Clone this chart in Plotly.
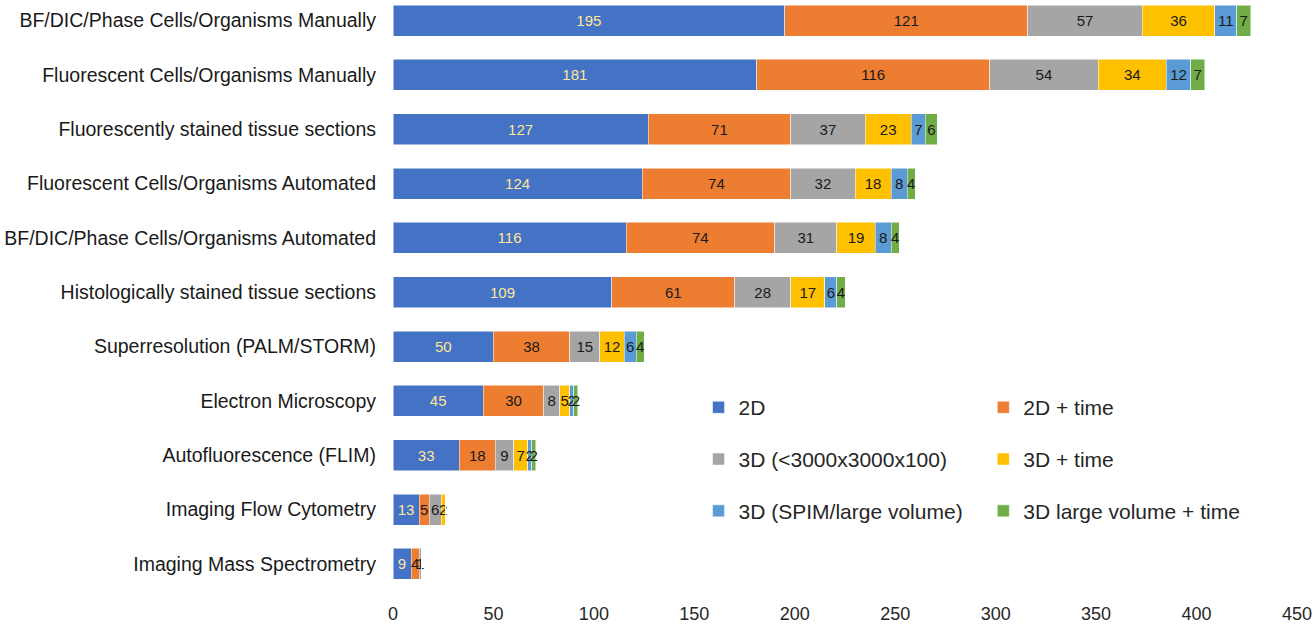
import plotly.graph_objects as go

categories = [
    "BF/DIC/Phase Cells/Organisms Manually",
    "Fluorescent Cells/Organisms Manually",
    "Fluorescently stained tissue sections",
    "Fluorescent Cells/Organisms Automated",
    "BF/DIC/Phase Cells/Organisms Automated",
    "Histologically stained tissue sections",
    "Superresolution (PALM/STORM)",
    "Electron Microscopy",
    "Autofluorescence (FLIM)",
    "Imaging Flow Cytometry",
    "Imaging Mass Spectrometry",
]

series_names = ["2D", "2D + time", "3D (<3000x3000x100)", "3D + time",
                "3D (SPIM/large volume)", "3D large volume + time"]

v_2d = [195, 181, 127, 124, 116, 109, 50, 45, 33, 13, 9]
v_2d_time = [121, 116, 71, 74, 74, 61, 38, 30, 18, 5, 4]
v_3d = [57, 54, 37, 32, 31, 28, 15, 8, 9, 6, 1]
v_3d_time = [36, 34, 23, 18, 19, 17, 12, 5, 7, 2, 0]
v_3d_spim = [11, 12, 7, 8, 8, 6, 6, 2, 2, 0, 0]
v_3d_large_time = [7, 7, 6, 4, 4, 4, 4, 2, 2, 0, 0]

x_ticks = [0, 50, 100, 150, 200, 250, 300, 350, 400, 450]

series_values = [v_2d, v_2d_time, v_3d, v_3d_time, v_3d_spim, v_3d_large_time]
colors = ["#4472C4", "#ED7D31", "#A5A5A5", "#FFC000", "#5B9BD5", "#70AD47"]
label_colors = ["#FFE699", "#1a1a1a", "#1a1a1a", "#1a1a1a", "#1a1a1a", "#1a1a1a"]
legend_ids = ["legend", "legend2", "legend", "legend2", "legend", "legend2"]

fig = go.Figure()
for i, (name, vals) in enumerate(zip(series_names, series_values)):
    fig.add_trace(go.Bar(
        y=categories, x=vals, name=name, orientation="h",
        marker=dict(color=colors[i], line=dict(color="white", width=0.5)),
        text=[str(v) for v in vals], textposition="inside",
        insidetextanchor="middle", textangle=0, constraintext="none",
        textfont=dict(color=label_colors[i], size=15, family="Liberation Sans"),
        legend=legend_ids[i], legendgroup=name, width=0.57,
    ))

legend_common = dict(
    orientation="v", bgcolor="rgba(0,0,0,0)",
    font=dict(size=21, color="#262626", family="Liberation Sans"),
    tracegroupgap=21.5, itemwidth=30, yanchor="top", xanchor="left",
)
fig.update_layout(
    barmode="stack",
    width=1313, height=624,
    margin=dict(l=393, r=16, t=0, b=33),
    plot_bgcolor="white", paper_bgcolor="white",
    font=dict(family="Liberation Sans", color="#262626"),
    uniformtext=dict(mode="show", minsize=15),
    legend=dict(x=0.338, y=0.345, **legend_common),
    legend2=dict(x=0.653, y=0.345, **legend_common),
    xaxis=dict(range=[0, 450], tickvals=x_ticks, showgrid=False, zeroline=False,
               showline=False, automargin=False, ticklabelstandoff=10,
               tickfont=dict(size=18, color="#262626")),
    yaxis=dict(range=[10.5, -0.38], showgrid=False, showline=False,
               automargin=False, ticklabelstandoff=16,
               tickfont=dict(size=19.5, color="#1a1a1a")),
)

fig.write_html("out.html", config={"displayModeBar": False},
               post_script="document.body.style.margin='0px';")
